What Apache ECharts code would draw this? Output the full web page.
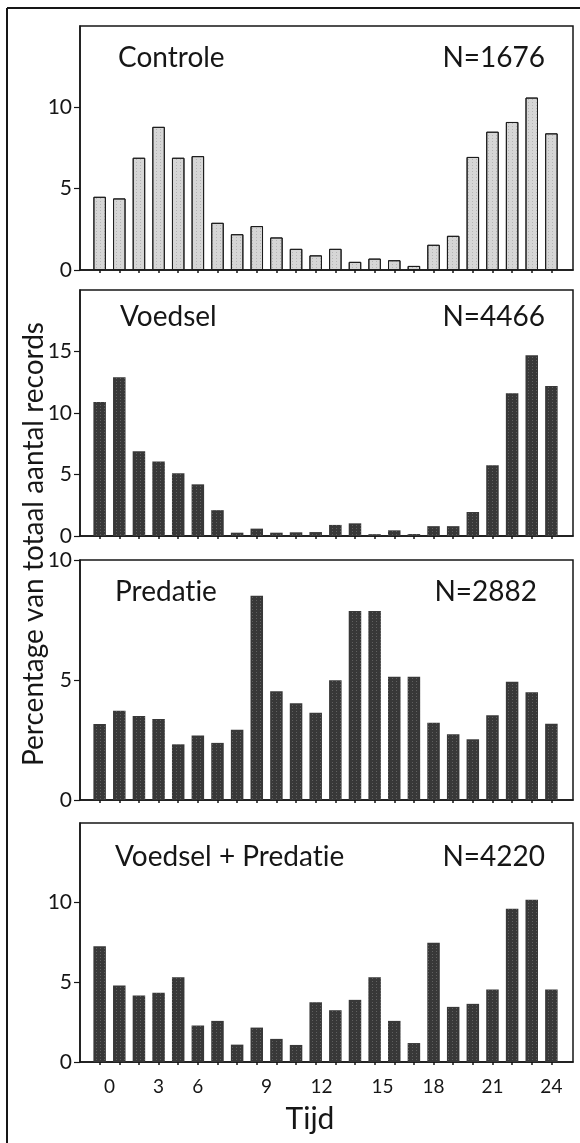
<!DOCTYPE html>
<html style="height: 100%">
   <head>
       <meta charset="utf-8">
   </head>
   <body style="height: 100%; margin: 0; background: #fff">
       <div id="container" style="width: 580px; height: 1143px"></div>
       <script type="text/javascript" src="https://cdn.jsdelivr.net/npm/echarts@6/dist/echarts.min.js"></script>
       <script type="text/javascript">
// uur van elke staaf (1..24)
var hours = [1,2,3,4,5,6,7,8,9,10,11,12,13,14,15,16,17,18,19,20,21,22,23,24];

// tijd-labels onder het laatste paneel, op de plek waar ze in de figuur staan
var xLabels = ['0', '3', '6', '9', '12', '15', '18', '21', '24'];
var xLabelAt = [1.5, 4, 6, 9.5, 12.3, 15.4, 18, 21, 24];

// \u200C voorkomt de "ti"-ligatuur van het lettertype
var panelNames = ['Controle', 'Voedsel', 'Predat\u200Cie', 'Voedsel + Predat\u200Cie'];
var panelN = ['N=1676', 'N=4466', 'N=2882', 'N=4220'];
var yMax = [15, 20, 10, 15];

var controle = [4.5, 4.4, 6.9, 8.8, 6.9, 7.0, 2.9, 2.2, 2.7, 2.0, 1.3, 0.9,
                1.3, 0.5, 0.7, 0.6, 0.25, 1.55, 2.1, 6.95, 8.5, 9.1, 10.6, 8.4];
var voedsel = [10.9, 12.9, 6.9, 6.05, 5.1, 4.2, 2.1, 0.27, 0.6, 0.27, 0.3, 0.32,
               0.9, 1.03, 0.15, 0.46, 0.16, 0.8, 0.8, 1.95, 5.75, 11.6, 14.7, 12.2];
var predatie = [3.17, 3.72, 3.5, 3.38, 2.32, 2.69, 2.38, 2.93, 8.51, 4.53, 4.03, 3.64,
                4.99, 7.88, 7.88, 5.14, 5.14, 3.22, 2.74, 2.53, 3.53, 4.93, 4.49, 3.18];
var voedselPredatie = [7.27, 4.8, 4.17, 4.34, 5.32, 2.29, 2.58, 1.09, 2.16, 1.45, 1.07, 3.75,
                       3.25, 3.9, 5.32, 2.58, 1.19, 7.48, 3.46, 3.65, 4.55, 9.62, 10.19, 4.55];

var panels = [controle, voedsel, predatie, voedselPredatie];

var dom = document.getElementById("container");
var myChart = echarts.init(dom, null, {renderer: 'canvas'});

var font = 'Lato, "Open Sans", sans-serif';
var ink = '#161616';

// plaats van elk paneel (boven, hoogte) in pixels
var gridTop = [26, 290, 560, 823];
var gridHeight = [244, 246, 240, 239];

var grids = [], xAxes = [], yAxes = [], series = [];
for (var i = 0; i < 4; i++) {
    grids.push({
        left: 80, right: 7, top: gridTop[i], height: gridHeight[i],
        show: true, borderColor: ink, borderWidth: 1.5, backgroundColor: 'transparent'
    });
    var last = i === 3;
    xAxes.push({
        type: 'value', gridIndex: i, min: 0, max: 25.1,
        axisLine: {show: true, onZero: false, lineStyle: {color: ink, width: 1.5}},
        axisTick: {show: true, customValues: hours, length: 3, lineStyle: {color: ink, width: 1.5}},
        axisLabel: {
            show: last,
            customValues: xLabelAt,
            margin: 15,
            color: ink, fontFamily: font, fontSize: 19,
            formatter: function (v) {
                for (var k = 0; k < xLabelAt.length; k++) {
                    if (Math.abs(xLabelAt[k] - v) < 0.01) return xLabels[k];
                }
                return '';
            }
        },
        splitLine: {show: false}
    });
    yAxes.push({
        type: 'value', gridIndex: i, min: 0, max: yMax[i], interval: 5,
        axisLine: {show: true, lineStyle: {color: ink, width: 1.5}},
        axisTick: {show: true, length: 6, lineStyle: {color: ink, width: 1.2}},
        axisLabel: {
            color: ink, fontFamily: font, fontSize: 21, margin: 8,
            showMaxLabel: i === 2
        },
        splitLine: {show: false}
    });
    var light = i === 0;
    series.push({
        type: 'bar', xAxisIndex: i, yAxisIndex: i,
        barWidth: 12.5,
        data: hours.map(function (h, k) { return [h, panels[i][k]]; }),
        itemStyle: light ? {
            color: '#d6d6d6', borderColor: '#1c1c1c', borderWidth: 1,
            decal: {symbol: 'rect', symbolSize: 1, dashArrayX: [1, 3], dashArrayY: [1, 2],
                    color: 'rgba(120,120,120,0.35)'}
        } : {
            color: '#383838',
            decal: {symbol: 'rect', symbolSize: 1, dashArrayX: [1, 3], dashArrayY: [1, 2],
                    color: 'rgba(200,200,200,0.28)'}
        },
        emphasis: {disabled: true},
        silent: true,
        animation: false
    });
}

var titleY = [58, 317, 592, 857];
var nameX = [118, 120, 115, 115];
var nX = [545, 545, 537, 545];
var graphics = [
    // rand van de gescande pagina
    {type: 'line', shape: {x1: 7, y1: 8, x2: 7, y2: 1143}, style: {stroke: ink, lineWidth: 2}},
    {type: 'line', shape: {x1: 7, y1: 8, x2: 580, y2: 8}, style: {stroke: ink, lineWidth: 2}},
    {type: 'text', x: 34, y: 544, rotation: Math.PI / 2,
     style: {text: 'Percentage van totaal aantal records', font: '28px ' + font, fill: ink,
             textAlign: 'center', textVerticalAlign: 'middle'}},
    {type: 'text', x: 310, y: 1119,
     style: {text: 'Tijd', font: '30px ' + font, fill: ink,
             textAlign: 'center', textVerticalAlign: 'middle'}}
];
for (var j = 0; j < 4; j++) {
    graphics.push({type: 'text', x: nameX[j], y: titleY[j],
        style: {text: panelNames[j], font: '28px ' + font, fill: ink,
                textAlign: 'left', textVerticalAlign: 'middle'}});
    graphics.push({type: 'text', x: nX[j], y: titleY[j],
        style: {text: panelN[j], font: '28px ' + font, fill: ink,
                textAlign: 'right', textVerticalAlign: 'middle'}});
}

option = {
    backgroundColor: '#ffffff',
    animation: false,
    grid: grids,
    xAxis: xAxes,
    yAxis: yAxes,
    series: series,
    graphic: graphics
};
if (option && typeof option === "object") {
    myChart.setOption(option, true);
}
       </script>
   </body>
</html>
